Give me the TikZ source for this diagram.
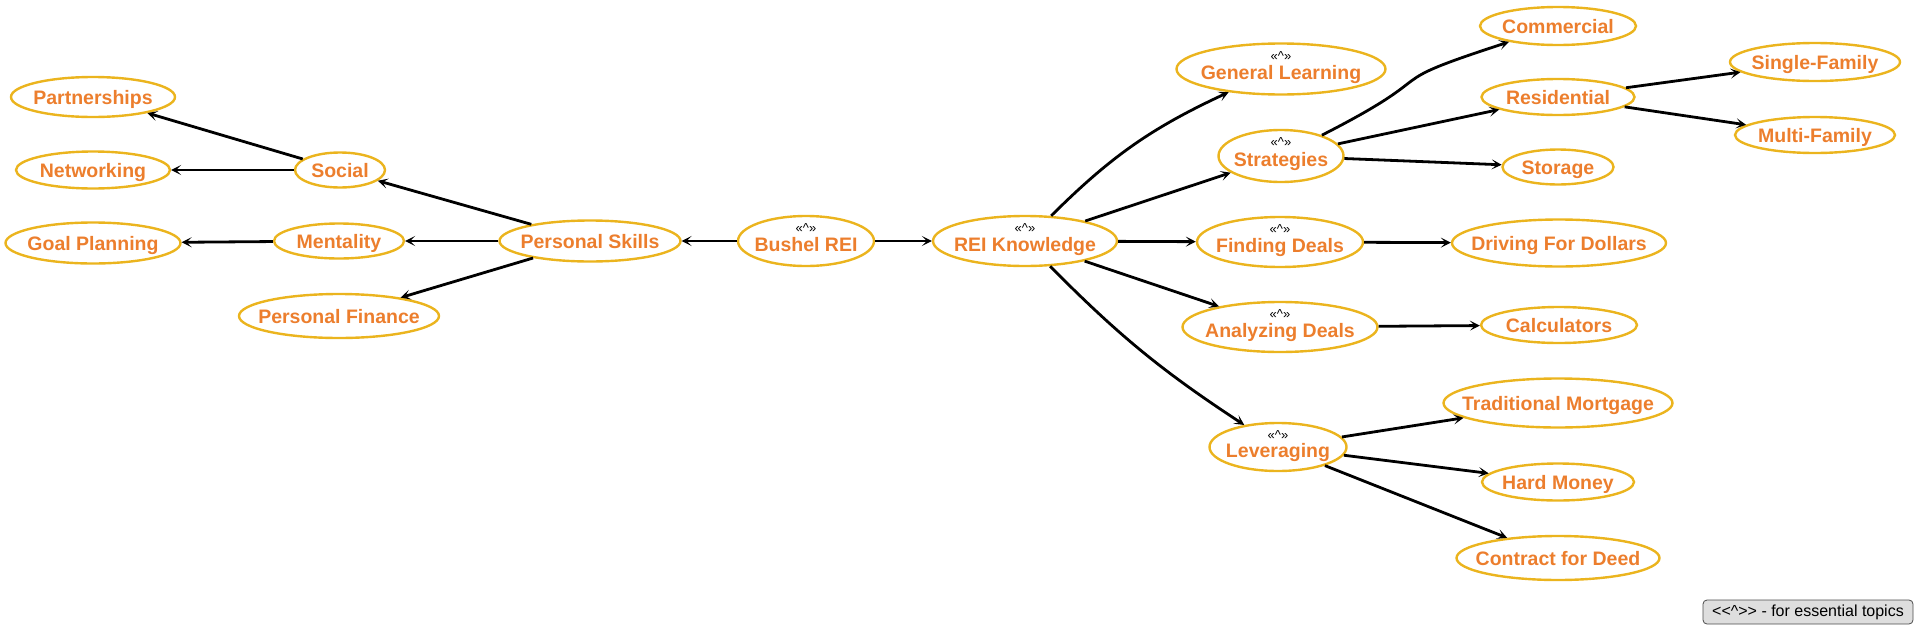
\documentclass[tikz,border=0pt]{standalone}
\usepackage{fontspec}
\usepackage{xcolor}
\usepackage{tikz}
\usetikzlibrary{arrows.meta,shapes.geometric}
\newfontfamily\topicfont{Liberation Sans}

\definecolor{topicorange}{HTML}{EC7E2D}
\definecolor{topicgold}{HTML}{EBB41E}
\definecolor{legendgray}{HTML}{DEDEDE}

\tikzset{
  topic/.style 2 args={ellipse, draw=topicgold, line width=2.4pt, text=topicorange,
    font=\topicfont\bfseries\fontsize{19.5}{23}\selectfont,
    text height=14pt, text depth=0pt,
    inner xsep=-200pt, inner ysep=-200pt, minimum width=#1pt, minimum height=#2pt},
  essential/.style={text height=20pt,
    label={[text=black, font=\topicfont\fontsize{13}{15}\selectfont,
    inner sep=0pt, label distance=-18pt]above:«\textasciicircum»}},
  link/.style={-{Stealth[length=10pt,width=10pt,inset=5pt]}, line width=2.8pt, black},
}

\begin{document}
\begin{tikzpicture}[x=1pt, y=-1pt]
    \useasboundingbox (0,0) rectangle (1923,635);

    % root and the two branches
    \node[topic={136}{50}, essential] (bushel) at (806,241) {Bushel REI};
    \node[topic={184}{50}, essential] (knowledge) at (1025,241) {REI Knowledge};
    \node[topic={181}{41}] (skills) at (590,241) {Personal Skills};

    % personal skills side
    \node[topic={90}{35}] (social) at (340,170) {Social};
    \node[topic={130}{35}] (mentality) at (339,241) {Mentality};
    \node[topic={200}{44}] (finance) at (339,316) {Personal Finance};
    \node[topic={164}{40}] (partner) at (93,97) {Partnerships};
    \node[topic={154}{37}] (network) at (93,170) {Networking};
    \node[topic={175}{41}] (goals) at (93,243) {Goal Planning};

    % knowledge side
    \node[topic={209}{51}, essential] (general) at (1281,69) {General Learning};
    \node[topic={125}{52}, essential] (strategy) at (1281,156) {Strategies};
    \node[topic={166}{50}, essential] (finding) at (1280,242) {Finding Deals};
    \node[topic={195}{50}, essential] (analyzing) at (1280,327) {Analyzing Deals};
    \node[topic={137}{48}, essential] (leverage) at (1278,447) {Leveraging};

    \node[topic={156}{38}] (commercial) at (1558,26) {Commercial};
    \node[topic={153}{36}] (residential) at (1558,97) {Residential};
    \node[topic={111}{35}] (storage) at (1558,167) {Storage};
    \node[topic={214}{47}] (driving) at (1559,243) {Driving For Dollars};
    \node[topic={156}{36}] (calc) at (1559,325) {Calculators};
    \node[topic={229}{49}] (mortgage) at (1558,403) {Traditional Mortgage};
    \node[topic={152}{37}] (hardmoney) at (1558,482) {Hard Money};
    \node[topic={203}{44}] (deed) at (1558,558) {Contract for Deed};
    \node[topic={170}{38}] (single) at (1815,62) {Single-Family};
    \node[topic={160}{36}] (multi) at (1815,135) {Multi-Family};

    % legend
    \node[draw=black!70, fill=legendgray, rounded corners=4pt, line width=0.8pt,
      minimum width=210pt, minimum height=24pt, inner sep=0pt,
      font=\topicfont\fontsize{16}{18}\selectfont] (legend) at (1808,612)
      {\textless\textless\textasciicircum\textgreater\textgreater{} - for essential topics};

    \draw[link] (bushel) -- (skills);
    \draw[link] (bushel) -- (knowledge);

    \draw[link] (skills) -- (social);
    \draw[link] (skills) -- (mentality);
    \draw[link] (skills) -- (finance);
    \draw[link] (social) -- (partner);
    \draw[link] (social) -- (network);
    \draw[link] (mentality) -- (goals);

    \draw[link] (knowledge) to[bend left=10] (general);
    \draw[link] (knowledge) -- (strategy);
    \draw[link] (knowledge) -- (finding);
    \draw[link] (knowledge) -- (analyzing);
    \draw[link] (knowledge) to[bend right=6] (leverage);

    \draw[link] (strategy) to[out=27, in=198, looseness=1.8] (commercial);
    \draw[link] (strategy) -- (residential);
    \draw[link] (strategy) -- (storage);
    \draw[link] (residential) -- (single);
    \draw[link] (residential) -- (multi);
    \draw[link] (finding) -- (driving);
    \draw[link] (analyzing) -- (calc);
    \draw[link] (leverage) -- (mortgage);
    \draw[link] (leverage) -- (hardmoney);
    \draw[link] (leverage) -- (deed);
\end{tikzpicture}
\end{document}
